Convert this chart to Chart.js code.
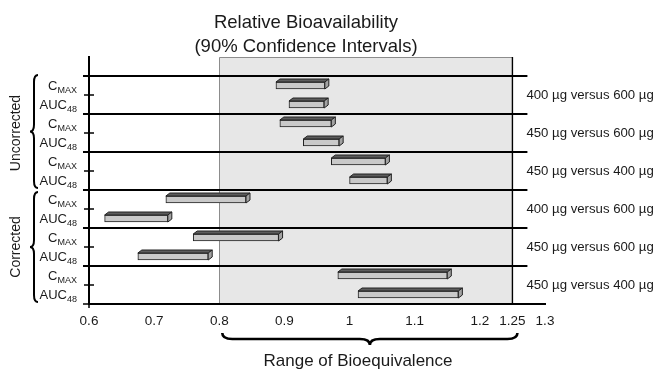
<!DOCTYPE html>
<html><head><meta charset="utf-8">
<script src="https://cdn.jsdelivr.net/npm/chart.js@4/dist/chart.umd.min.js"></script>
<style>html,body{margin:0;padding:0;background:#fff}canvas{display:block}</style>
</head><body>
<canvas id="c" width="657" height="369"></canvas>
<script>
// ---- data ----
const titleLines = ['Relative Bioavailability', '(90% Confidence Intervals)'];
const groups = ['Uncorrected', 'Corrected'];
const comparisons = ['400 µg versus 600 µg', '450 µg versus 600 µg', '450 µg versus 400 µg',
                     '400 µg versus 600 µg', '450 µg versus 600 µg', '450 µg versus 400 µg'];
const paramMain = ['C', 'AUC', 'C', 'AUC', 'C', 'AUC', 'C', 'AUC', 'C', 'AUC', 'C', 'AUC'];
const paramSub  = ['MAX', '48', 'MAX', '48', 'MAX', '48', 'MAX', '48', 'MAX', '48', 'MAX', '48'];
const lower = [0.887, 0.907, 0.893, 0.929, 0.972, 1.000, 0.718, 0.624, 0.760, 0.675, 0.982, 1.013];
const upper = [0.962, 0.961, 0.972, 0.984, 1.055, 1.058, 0.841, 0.721, 0.891, 0.783, 1.150, 1.167];
const xTicks = [0.6, 0.7, 0.8, 0.9, 1, 1.1, 1.2, 1.25, 1.3];
const xMin = 0.6, xMax = 1.3;
const beRange = [0.8, 1.25];
const rangeLabel = 'Range of Bioequivalence';
const lineEnd = 1.273;

const rowLabels = [''].concat(paramMain.map((m, i) => m + paramSub[i]));
const barData = [null].concat(lower.map((l, i) => [l, upper[i]]));

const FONT = '"Liberation Sans", Arial, Helvetica, sans-serif';
const TXT = '#1a1a1a';

function vBrace(ctx, xTip, xEnd, y1, y2) {
  const xm = (xTip + xEnd) / 2, ym = (y1 + y2) / 2, r = 7;
  ctx.beginPath();
  ctx.moveTo(xEnd, y1);
  ctx.quadraticCurveTo(xm, y1, xm, y1 + r);
  ctx.lineTo(xm, ym - r);
  ctx.quadraticCurveTo(xm, ym, xTip, ym);
  ctx.quadraticCurveTo(xm, ym, xm, ym + r);
  ctx.lineTo(xm, y2 - r);
  ctx.quadraticCurveTo(xm, y2, xEnd, y2);
  ctx.stroke();
}
function hBrace(ctx, x1, x2, yEnd, yTip, xTip) {
  const ym = (yEnd + yTip) / 2, r = 10;
  ctx.beginPath();
  ctx.moveTo(x1, yEnd);
  ctx.quadraticCurveTo(x1, ym, x1 + r, ym);
  ctx.lineTo(xTip - r, ym);
  ctx.quadraticCurveTo(xTip, ym, xTip, yTip);
  ctx.quadraticCurveTo(xTip, ym, xTip + r, ym);
  ctx.lineTo(x2 - r, ym);
  ctx.quadraticCurveTo(x2, ym, x2, yEnd);
  ctx.stroke();
}

const deco = {
  id: 'deco',
  beforeDraw(chart) {
    const {ctx, chartArea: a, scales: {x}} = chart;
    const x1 = x.getPixelForValue(beRange[0]), x2 = x.getPixelForValue(beRange[1]);
    ctx.save();
    ctx.fillStyle = '#fff';
    ctx.fillRect(0, 0, chart.width, chart.height);
    ctx.fillStyle = '#e7e7e7';
    ctx.fillRect(x1, a.top, x2 - x1, a.bottom - a.top);
    ctx.strokeStyle = '#8c8c8c'; ctx.lineWidth = 1;
    ctx.beginPath();
    ctx.moveTo(Math.round(x1) + 0.5, a.bottom);
    ctx.lineTo(Math.round(x1) + 0.5, a.top + 0.5);
    ctx.lineTo(x2, a.top + 0.5);
    ctx.stroke();
    ctx.strokeStyle = '#000'; ctx.lineWidth = 1.4;
    ctx.beginPath(); ctx.moveTo(x2, a.top); ctx.lineTo(x2, a.bottom); ctx.stroke();
    ctx.restore();
  },
  beforeDatasetsDraw(chart) {
    const {ctx, chartArea: a, scales: {x, y}} = chart;
    const rowH = y.getPixelForValue(1) - y.getPixelForValue(0);
    const xe = x.getPixelForValue(lineEnd);
    ctx.save();
    ctx.strokeStyle = '#000';
    for (let i = 0; i < rowLabels.length - 1; i++) {
      const yb = Math.round(y.getPixelForValue(i) + rowH / 2);
      ctx.beginPath();
      if (i % 2 === 0) {
        ctx.lineWidth = 2;
        ctx.moveTo(a.left - 6, yb); ctx.lineTo(xe, yb);
      } else {
        ctx.lineWidth = 1.5;
        ctx.moveTo(a.left - 5, yb); ctx.lineTo(a.left + 5, yb);
      }
      ctx.stroke();
    }
    ctx.lineWidth = 1.5;
    ctx.beginPath(); ctx.moveTo(a.left - 6, a.bottom); ctx.lineTo(a.left, a.bottom);
    ctx.moveTo(a.left, a.bottom); ctx.lineTo(a.left, a.bottom + 4); ctx.stroke();
    ctx.restore();
  },
  afterDatasetsDraw(chart) {
    const {ctx} = chart;
    const meta = chart.getDatasetMeta(0);
    const raw = chart.data.datasets[0].data;
    const dx = 4, dy = 3;
    ctx.save();
    ctx.strokeStyle = '#222'; ctx.lineWidth = 1; ctx.lineJoin = 'round';
    meta.data.forEach((el, i) => {
      if (raw[i] == null) return;
      const p = el.getProps(['x', 'y', 'base', 'height'], true);
      if (!isFinite(p.x) || !isFinite(p.base) || !isFinite(p.y)) return;
      const l = Math.min(p.x, p.base), r = Math.max(p.x, p.base);
      const t = p.y - p.height / 2, b = p.y + p.height / 2;
      ctx.fillStyle = '#5c5c5c';
      ctx.beginPath();
      ctx.moveTo(l, t); ctx.lineTo(l + dx, t - dy); ctx.lineTo(r + dx, t - dy); ctx.lineTo(r, t); ctx.closePath();
      ctx.fill(); ctx.stroke();
      ctx.fillStyle = '#a2a2a2';
      ctx.beginPath();
      ctx.moveTo(r, t); ctx.lineTo(r + dx, t - dy); ctx.lineTo(r + dx, b - dy); ctx.lineTo(r, b); ctx.closePath();
      ctx.fill(); ctx.stroke();
    });
    ctx.restore();
  },
  afterDraw(chart) {
    const {ctx, chartArea: a, scales: {x, y}} = chart;
    const rowH = y.getPixelForValue(1) - y.getPixelForValue(0);
    ctx.save();
    ctx.fillStyle = TXT;
    ctx.font = '18.5px ' + FONT;
    ctx.textAlign = 'center'; ctx.textBaseline = 'alphabetic';
    ctx.fillText(titleLines[0], 306, 28);
    ctx.fillText(titleLines[1], 306, 52);
    const labRight = a.left - 12;
    for (let i = 0; i < paramMain.length; i++) {
      const cy = y.getPixelForValue(i + 1);
      ctx.font = '9px ' + FONT;
      const sw = ctx.measureText(paramSub[i]).width;
      ctx.textAlign = 'right';
      ctx.fillText(paramSub[i], labRight, cy + 7.5);
      ctx.font = '13px ' + FONT;
      ctx.fillText(paramMain[i], labRight - sw, cy + 4.5);
    }
    ctx.font = '13.2px ' + FONT;
    ctx.textAlign = 'left'; ctx.textBaseline = 'middle';
    const xt = x.getPixelForValue(lineEnd) - 1;
    for (let k = 0; k < comparisons.length; k++) {
      const cy = y.getPixelForValue(2 * k + 1) + rowH / 2;
      ctx.fillText(comparisons[k], xt, cy);
    }
    ctx.strokeStyle = '#000'; ctx.lineWidth = 2;
    for (let g = 0; g < groups.length; g++) {
      const yTop = y.getPixelForValue(6 * g + 1) - rowH / 2;
      const yBot = y.getPixelForValue(6 * g + 6) + rowH / 2;
      vBrace(ctx, 30, 38, yTop + (g === 0 ? -1 : 2), yBot - 2);
      ctx.save();
      ctx.translate(16, (yTop + yBot) / 2);
      ctx.rotate(-Math.PI / 2);
      ctx.font = '14px ' + FONT;
      ctx.textAlign = 'center'; ctx.textBaseline = 'middle';
      ctx.fillText(groups[g], 0, 0);
      ctx.restore();
    }
    const bx1 = x.getPixelForValue(beRange[0]) + 3, bx2 = x.getPixelForValue(beRange[1]) + 5;
    ctx.lineWidth = 2.6;
    hBrace(ctx, bx1, bx2, 333, 345, (bx1 + bx2) / 2);
    ctx.font = '17px ' + FONT;
    ctx.textAlign = 'center'; ctx.textBaseline = 'alphabetic';
    ctx.fillText(rangeLabel, 358, 366);
    ctx.restore();
  }
};

new Chart(document.getElementById('c'), {
  type: 'bar',
  data: {
    labels: rowLabels,
    datasets: [{
      data: barData,
      backgroundColor: '#c9c9c9',
      borderColor: '#222',
      borderWidth: 1,
      borderSkipped: false,
      barThickness: 7
    }]
  },
  options: {
    indexAxis: 'y',
    responsive: false,
    animation: false,
    devicePixelRatio: 1,
    layout: {padding: {left: 0, right: 112, top: 57, bottom: 0}},
    plugins: {legend: {display: false}, tooltip: {enabled: false}, title: {display: false}},
    scales: {
      x: {
        type: 'linear', min: xMin, max: xMax,
        afterBuildTicks: s => { s.ticks = xTicks.map(v => ({value: v})); },
        afterFit: s => { s.height = 65; },
        grid: {display: false, drawTicks: false},
        border: {display: true, color: '#000', width: 2},
        ticks: {padding: 9, color: TXT, font: {family: FONT, size: 13.5}, autoSkip: false, maxRotation: 0,
                callback: v => String(v)}
      },
      y: {
        type: 'category',
        afterFit: s => { s.width = 89; },
        grid: {display: false, drawTicks: false},
        border: {display: true, color: '#000', width: 2},
        ticks: {display: false}
      }
    }
  },
  plugins: [deco]
});
</script>
</body></html>
